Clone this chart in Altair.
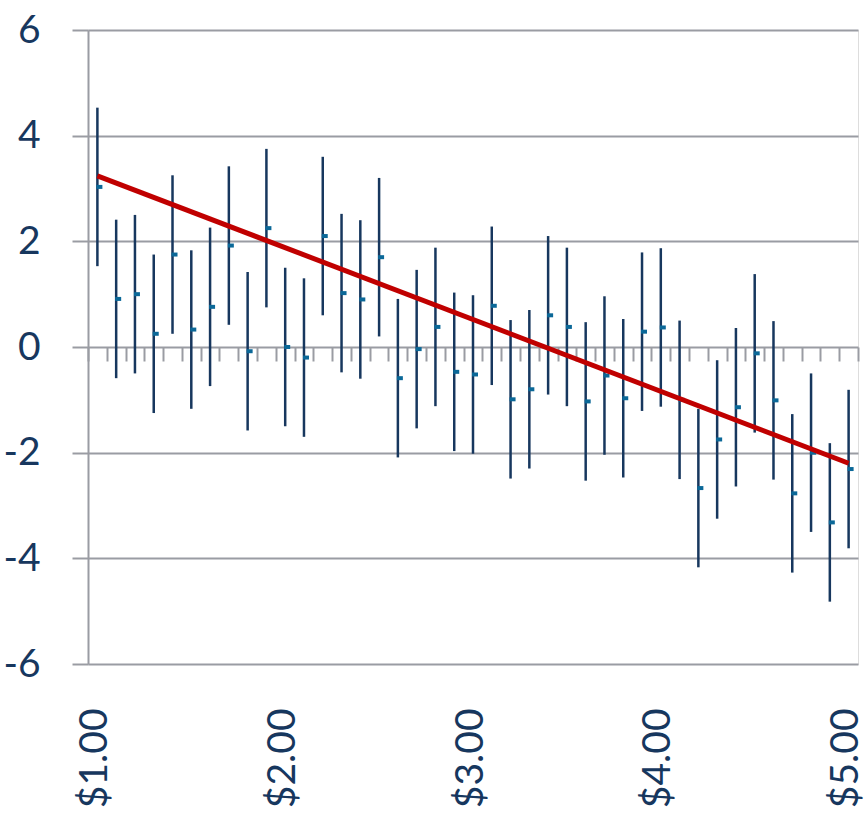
import altair as alt
import pandas as pd

# Price categories ($) and the mean response at each price
prices = [1.0, 1.1, 1.2, 1.3, 1.4, 1.5, 1.6, 1.7, 1.8, 1.9,
          2.0, 2.1, 2.2, 2.3, 2.4, 2.5, 2.6, 2.7, 2.8, 2.9,
          3.0, 3.1, 3.2, 3.3, 3.4, 3.5, 3.6, 3.7, 3.8, 3.9,
          4.0, 4.1, 4.2, 4.3, 4.4, 4.5, 4.6, 4.7, 4.8, 4.9, 5.0]
means = [3.03, 0.91, 1.00, 0.25, 1.75, 0.33, 0.76, 1.92, -0.08, 2.25,
         0.00, -0.20, 2.10, 1.02, 0.90, 1.70, -0.59, -0.04, 0.38, -0.47,
         -0.52, 0.78, -0.99, -0.80, 0.60, 0.38, -1.03, -0.54, -0.97, 0.29,
         0.37, -1.00, -2.67, -1.75, -1.14, -0.12, -1.01, -2.77, -2.00, -3.32, -2.31]
error_margin = 1.5

# Fitted trend line, start and end
trend_prices = [1.0, 5.0]
trend_values = [3.24, -2.20]

y_ticks = [-6, -4, -2, 0, 2, 4, 6]
x_label_values = [1, 2, 3, 4, 5]

TEXT = "#17375e"
BAR = "#17375e"
DOT = "#0b6898"
RED = "#c00000"
GRAY = "#9a9ca3"
FONT = "Lato"

df = pd.DataFrame({
    "price": prices,
    "mean": means,
    "lo": [m - error_margin for m in means],
    "hi": [m + error_margin for m in means],
})
trend = pd.DataFrame({"price": trend_prices, "value": trend_values})

# category boundaries, used for the tick marks along the zero line
boundaries = [0.95] + [round(p + 0.05, 2) for p in prices]

x_scale = alt.Scale(domain=[0.95, 5.05], nice=False, zero=False)
y_scale = alt.Scale(domain=[-6, 6], nice=False)

y_axis = alt.Axis(
    values=y_ticks, labelExpr="datum.value + ''",
    grid=True, gridColor=GRAY, gridWidth=2,
    domain=True, domainColor=GRAY, domainWidth=2,
    ticks=True, tickColor=GRAY, tickWidth=2, tickSize=16,
    labelPadding=32, labelFontSize=39, labelColor=TEXT, labelFont=FONT,
    title=None,
)

x_label_axis = alt.Axis(
    values=x_label_values,
    labelExpr="'$' + format(datum.value, '.2f')",
    labelAngle=-90, labelAlign="right", labelBaseline="middle",
    labelPadding=44, labelOffset=-3,
    labelFontSize=39, labelColor=TEXT, labelFont=FONT,
    ticks=False, domain=False, grid=False, title=None, orient="bottom",
)

zero_axis = alt.Axis(
    values=boundaries, labels=False,
    ticks=True, tickColor=GRAY, tickWidth=2, tickSize=14,
    domain=False, grid=False, title=None, orient="bottom", offset=-317,
)

y_enc = alt.Y("lo:Q", scale=y_scale, axis=y_axis)

bars = alt.Chart(df).mark_rule(color=BAR, strokeWidth=2.5).encode(
    x=alt.X("price:Q", scale=x_scale, axis=x_label_axis),
    y=y_enc,
    y2="hi:Q",
)

dots = alt.Chart(df).mark_tick(
    color=DOT, orient="horizontal", size=6, thickness=4, xOffset=2, opacity=1
).encode(
    x=alt.X("price:Q", scale=x_scale, axis=zero_axis),
    y=alt.Y("mean:Q", scale=y_scale, axis=y_axis),
)

line = alt.Chart(trend).mark_line(color=RED, strokeWidth=5, strokeCap="butt").encode(
    x=alt.X("price:Q", scale=x_scale, axis=None),
    y=alt.Y("value:Q", scale=y_scale, axis=y_axis),
)

chart = alt.layer(bars, dots, line).resolve_axis(x="independent").properties(
    width=770, height=634,
    autosize=alt.AutoSizeParams(type="none"),
    padding={"left": 88, "top": 30, "right": 7, "bottom": 157},
).configure_view(stroke=None).configure(background="white")

chart.save("out.html", embed_options={"renderer": "svg", "actions": False})
